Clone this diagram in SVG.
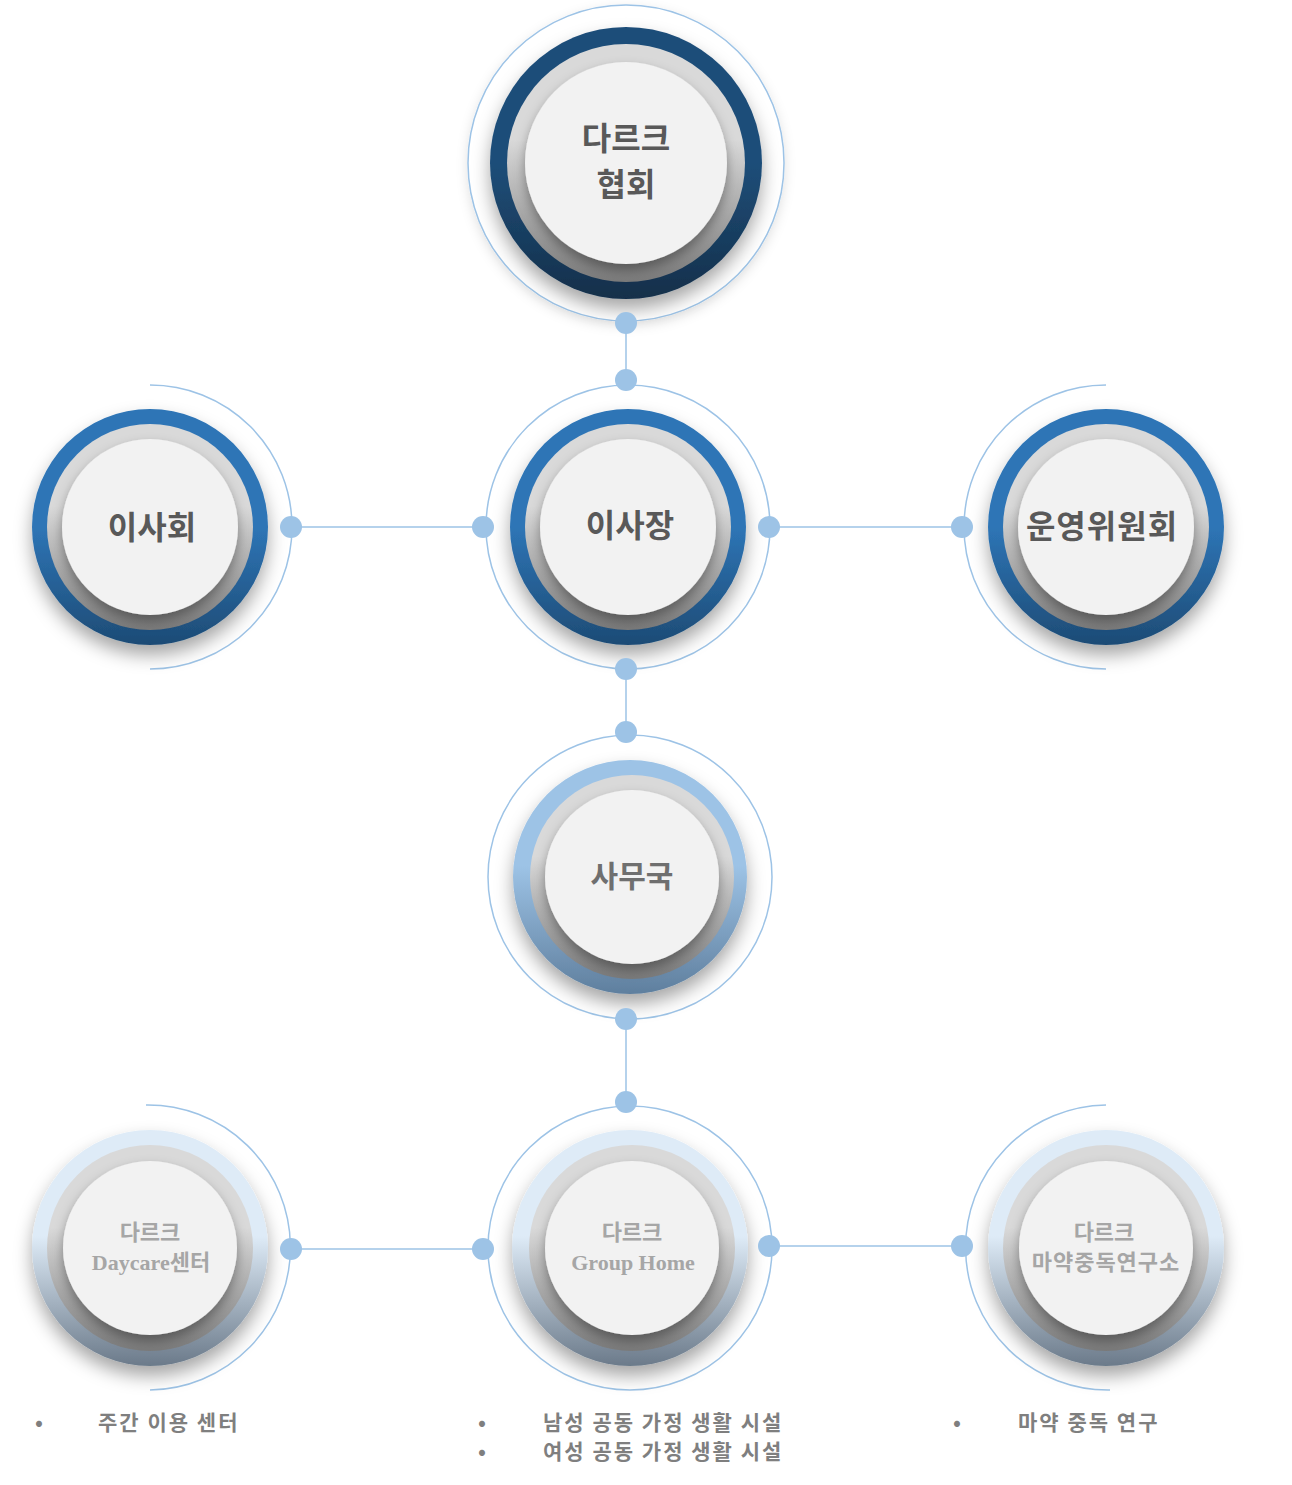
<svg xmlns="http://www.w3.org/2000/svg" width="1292" height="1485" viewBox="0 0 1292 1485">
<defs>
<linearGradient id="gDark" x1="0" y1="0" x2="0" y2="1"><stop offset="0.5" stop-color="#1f4e79"/><stop offset="1" stop-color="#132f4a"/></linearGradient>
<linearGradient id="gMid" x1="0" y1="0" x2="0" y2="1"><stop offset="0.5" stop-color="#2e75b6"/><stop offset="1" stop-color="#1d4b75"/></linearGradient>
<linearGradient id="gLight" x1="0" y1="0" x2="0" y2="1"><stop offset="0.45" stop-color="#9dc3e6"/><stop offset="1" stop-color="#5f7f9e"/></linearGradient>
<linearGradient id="gPale" x1="0" y1="0" x2="0" y2="1"><stop offset="0.45" stop-color="#deebf7"/><stop offset="1" stop-color="#6b7a8a"/></linearGradient>
<linearGradient id="gGray" x1="0" y1="0" x2="0" y2="1"><stop offset="0.4" stop-color="#d9d9d9"/><stop offset="1" stop-color="#7a7a7a"/></linearGradient>
<filter id="sh" x="-30%" y="-30%" width="160%" height="170%"><feDropShadow dx="0" dy="10" stdDeviation="9" flood-color="#000" flood-opacity="0.35"/></filter>
<filter id="sh2" x="-30%" y="-30%" width="160%" height="170%"><feDropShadow dx="0" dy="6" stdDeviation="6" flood-color="#000" flood-opacity="0.35"/></filter>
<filter id="soft" x="-20%" y="-20%" width="140%" height="140%"><feDropShadow dx="0" dy="4" stdDeviation="6" flood-color="#000" flood-opacity="0.12"/></filter>
</defs>
<style>
.thin{fill:none;stroke:#9dc3e6;stroke-width:1.5}
.dot{fill:#9dc3e6}
.gray{fill:url(#gGray)}
.in{fill:#f2f2f2}
.t{font-family:"Noto Sans CJK KR","Noto Sans",sans-serif;font-weight:bold;fill:#595959;text-anchor:middle}
.tb{font-family:"Liberation Serif","Noto Sans CJK KR",serif;font-weight:bold;fill:#a6a6a6;text-anchor:middle;font-size:22px}
.li{font-family:"Noto Sans CJK KR","Noto Sans",sans-serif;font-weight:bold;fill:#7f7f7f;font-size:21px;letter-spacing:2px}
</style>
<g id="connectors">
<line class="thin" x1="626" y1="323" x2="626" y2="380"/>
<line class="thin" x1="626" y1="669" x2="626" y2="732"/>
<line class="thin" x1="626" y1="1019" x2="626" y2="1102"/>
<line class="thin" x1="291" y1="527" x2="483" y2="527"/>
<line class="thin" x1="769" y1="527" x2="962" y2="527"/>
<line class="thin" x1="291" y1="1249" x2="483" y2="1249"/>
<line class="thin" x1="769" y1="1246" x2="962" y2="1246"/>
</g>
<g id="n-top">
<circle cx="626" cy="163" r="158" class="thin" filter="url(#soft)" style="fill:#fff"/>
<circle cx="626" cy="163" r="136" fill="url(#gDark)" filter="url(#sh)"/>
<circle cx="626" cy="163" r="119" class="gray"/>
<circle cx="626" cy="163" r="101" class="in" filter="url(#sh2)"/>
<text class="t" x="626" y="150" font-size="32">다르크</text>
<text class="t" x="626" y="196" font-size="32">협회</text>
<circle class="dot" cx="626" cy="323" r="11"/>
</g>
<g id="n-isahoe">
<path class="thin" d="M150 385 A142 142 0 0 1 150 669"/>
<circle cx="150" cy="527" r="118" fill="url(#gMid)" filter="url(#sh)"/>
<circle cx="150" cy="527" r="103" class="gray"/>
<circle cx="150" cy="527" r="88" class="in" filter="url(#sh2)"/>
<text class="t" x="152" y="539" font-size="32">이사회</text>
<circle class="dot" cx="291" cy="527" r="11"/>
</g>
<g id="n-isajang">
<circle class="thin" cx="628" cy="527" r="142"/>
<circle cx="628" cy="527" r="118" fill="url(#gMid)" filter="url(#sh)"/>
<circle cx="628" cy="527" r="103" class="gray"/>
<circle cx="628" cy="527" r="88" class="in" filter="url(#sh2)"/>
<text class="t" x="630" y="537" font-size="32">이사장</text>
<circle class="dot" cx="626" cy="380" r="11"/>
<circle class="dot" cx="483" cy="527" r="11"/>
<circle class="dot" cx="769" cy="527" r="11"/>
<circle class="dot" cx="626" cy="669" r="11"/>
</g>
<g id="n-unyoung">
<path class="thin" d="M1106 385 A142 142 0 0 0 1106 669"/>
<circle cx="1106" cy="527" r="118" fill="url(#gMid)" filter="url(#sh)"/>
<circle cx="1106" cy="527" r="103" class="gray"/>
<circle cx="1106" cy="527" r="88" class="in" filter="url(#sh2)"/>
<text class="t" x="1102" y="538" font-size="32" letter-spacing="1">운영위원회</text>
<circle class="dot" cx="962" cy="527" r="11"/>
</g>
<g id="n-samuguk">
<circle class="thin" cx="630" cy="877" r="142"/>
<circle cx="630" cy="877" r="117" fill="url(#gLight)" filter="url(#sh)"/>
<circle cx="632" cy="877" r="102" class="gray"/>
<circle cx="632" cy="877" r="87" class="in" filter="url(#sh2)"/>
<text class="t" x="632" y="887" font-size="30" style="fill:#6f6f6f">사무국</text>
<circle class="dot" cx="626" cy="732" r="11"/>
<circle class="dot" cx="626" cy="1019" r="11"/>
</g>
<g id="n-daycare">
<path class="thin" d="M146 1105 A142 142 0 0 1 150 1390"/>
<circle cx="150" cy="1248" r="118" fill="url(#gPale)" filter="url(#sh)"/>
<circle cx="150" cy="1248" r="103" class="gray"/>
<circle cx="150" cy="1248" r="87" class="in" filter="url(#sh2)"/>
<text class="tb" x="150" y="1240">다르크</text>
<text class="tb" x="151" y="1270">Daycare센터</text>
<circle class="dot" cx="291" cy="1249" r="11"/>
</g>
<g id="n-grouphome">
<circle class="thin" cx="630" cy="1248" r="142"/>
<circle cx="630" cy="1248" r="118" fill="url(#gPale)" filter="url(#sh)"/>
<circle cx="632" cy="1248" r="103" class="gray"/>
<circle cx="632" cy="1248" r="87" class="in" filter="url(#sh2)"/>
<text class="tb" x="632" y="1240">다르크</text>
<text class="tb" x="633" y="1270">Group Home</text>
<circle class="dot" cx="626" cy="1102" r="11"/>
<circle class="dot" cx="483" cy="1249" r="11"/>
<circle class="dot" cx="769" cy="1246" r="11"/>
</g>
<g id="n-research">
<path class="thin" d="M1106 1105 A142 142 0 0 0 1110 1390"/>
<circle cx="1106" cy="1248" r="118" fill="url(#gPale)" filter="url(#sh)"/>
<circle cx="1106" cy="1248" r="103" class="gray"/>
<circle cx="1106" cy="1248" r="87" class="in" filter="url(#sh2)"/>
<text class="tb" x="1104" y="1240">다르크</text>
<text class="tb" x="1106" y="1270" letter-spacing="1">마약중독연구소</text>
<circle class="dot" cx="962" cy="1246" r="11"/>
</g>
<g id="lists">
<text class="li" x="35" y="1430">•</text><text class="li" x="98" y="1430">주간 이용 센터</text>
<text class="li" x="478" y="1430">•</text><text class="li" x="543" y="1430">남성 공동 가정 생활 시설</text>
<text class="li" x="478" y="1459">•</text><text class="li" x="543" y="1459">여성 공동 가정 생활 시설</text>
<text class="li" x="953" y="1430">•</text><text class="li" x="1018" y="1430">마약 중독 연구</text>
</g>
</svg>
